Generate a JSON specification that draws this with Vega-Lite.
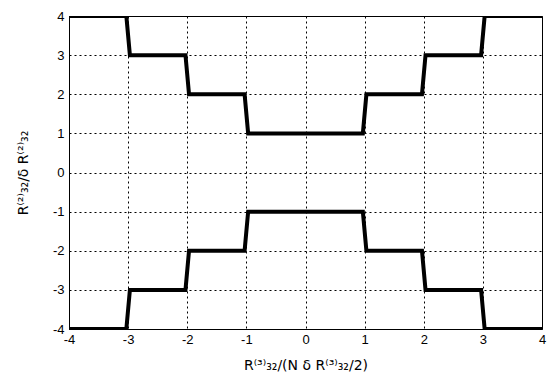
{
  "$schema": "https://vega.github.io/schema/vega-lite/v6.json",
  "width": 473,
  "height": 313,
  "autosize": "none",
  "padding": {"left": 69, "top": 16, "right": 5, "bottom": 56},
  "background": "white",
  "config": {
    "view": {"stroke": "black", "strokeWidth": 1},
    "font": "Liberation Sans"
  },
  "data": {
    "values": [
      {"s": "up", "o": 1, "x": -4, "y": 4},
      {"s": "up", "o": 2, "x": -3.03, "y": 4},
      {"s": "up", "o": 3, "x": -2.97, "y": 3},
      {"s": "up", "o": 4, "x": -2.03, "y": 3},
      {"s": "up", "o": 5, "x": -1.97, "y": 2},
      {"s": "up", "o": 6, "x": -1.03, "y": 2},
      {"s": "up", "o": 7, "x": -0.97, "y": 1},
      {"s": "up", "o": 8, "x": 0.97, "y": 1},
      {"s": "up", "o": 9, "x": 1.03, "y": 2},
      {"s": "up", "o": 10, "x": 1.97, "y": 2},
      {"s": "up", "o": 11, "x": 2.03, "y": 3},
      {"s": "up", "o": 12, "x": 2.97, "y": 3},
      {"s": "up", "o": 13, "x": 3.03, "y": 4},
      {"s": "up", "o": 14, "x": 4, "y": 4},
      {"s": "lo", "o": 1, "x": -4, "y": -4},
      {"s": "lo", "o": 2, "x": -3.03, "y": -4},
      {"s": "lo", "o": 3, "x": -2.97, "y": -3},
      {"s": "lo", "o": 4, "x": -2.03, "y": -3},
      {"s": "lo", "o": 5, "x": -1.97, "y": -2},
      {"s": "lo", "o": 6, "x": -1.03, "y": -2},
      {"s": "lo", "o": 7, "x": -0.97, "y": -1},
      {"s": "lo", "o": 8, "x": 0.97, "y": -1},
      {"s": "lo", "o": 9, "x": 1.03, "y": -2},
      {"s": "lo", "o": 10, "x": 1.97, "y": -2},
      {"s": "lo", "o": 11, "x": 2.03, "y": -3},
      {"s": "lo", "o": 12, "x": 2.97, "y": -3},
      {"s": "lo", "o": 13, "x": 3.03, "y": -4},
      {"s": "lo", "o": 14, "x": 4, "y": -4}
    ]
  },
  "mark": {"type": "line", "color": "black", "strokeWidth": 4, "strokeJoin": "miter", "clip": true},
  "encoding": {
    "x": {
      "field": "x", "type": "quantitative",
      "scale": {"domain": [-4, 4], "nice": false, "zero": false},
      "axis": {
        "values": [-4, -3, -2, -1, 0, 1, 2, 3, 4],
        "labelExpr": "datum.value < 0 ? '-' + abs(datum.value) : '' + datum.value",
        "title": "R⁽³⁾₃₂/(N δ R⁽³⁾₃₂/2)",
        "titleFont": "DejaVu Sans", "titleFontSize": 14, "titleFontWeight": "normal",
        "titleColor": "black", "titlePadding": 12,
        "labelFont": "Liberation Sans", "labelFontSize": 13, "labelColor": "black",
        "labelPadding": 4, "labelFlush": false,
        "ticks": false, "domainColor": "black",
        "grid": true, "gridColor": "black", "gridDash": [2, 3], "gridOpacity": 1, "gridWidth": 1
      }
    },
    "y": {
      "field": "y", "type": "quantitative",
      "scale": {"domain": [-4, 4], "nice": false, "zero": false},
      "axis": {
        "values": [-4, -3, -2, -1, 0, 1, 2, 3, 4],
        "labelExpr": "datum.value < 0 ? '-' + abs(datum.value) : '' + datum.value",
        "title": "R⁽²⁾₃₂/δ R⁽²⁾₃₂",
        "titleFont": "DejaVu Sans", "titleFontSize": 14, "titleFontWeight": "normal",
        "titleColor": "black", "titlePadding": 22,
        "labelFont": "Liberation Sans", "labelFontSize": 13, "labelColor": "black",
        "labelPadding": 5, "labelFlush": false,
        "ticks": false, "domainColor": "black",
        "grid": true, "gridColor": "black", "gridDash": [2, 3], "gridOpacity": 1, "gridWidth": 1
      }
    },
    "detail": {"field": "s"},
    "order": {"field": "o", "type": "quantitative"}
  }
}
